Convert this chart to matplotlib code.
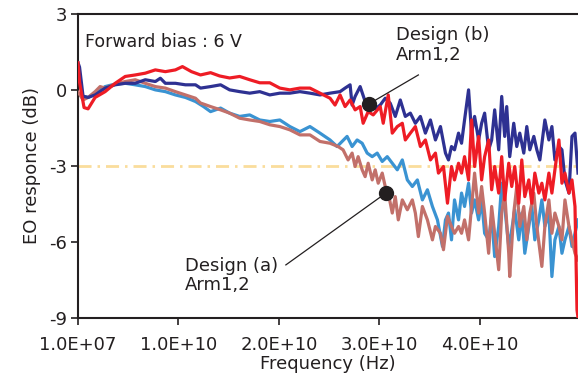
import matplotlib
matplotlib.use('Agg')
import matplotlib.pyplot as plt
import numpy as np

# ---- data (frequency in GHz, EO response in dB) ----
f_b2 = [0, 0.15, 0.5, 1.0, 1.7, 2.7, 3.7, 4.7, 5.7, 6.7, 7.7, 8.2, 8.7, 9.7, 10.7, 11.7,
        12.2, 13.2, 14.2, 15.1, 16.1, 17.1, 18.1, 19.1, 20.1, 21.1, 22.1, 23.1, 24.1, 25.1,
        26.1, 26.6, 27.1, 27.3, 27.6, 28.1, 28.6, 29.1, 29.6, 30.1, 30.6, 31.1, 31.6, 32.1,
        32.6, 33.1, 33.6, 34.1, 34.6, 35.1, 35.6, 36.1, 36.6, 36.9, 37.2, 37.5, 37.9, 38.2,
        38.5, 38.9, 39.2, 39.5, 39.9, 40.2, 40.5, 40.9, 41.2, 41.5, 41.9, 42.2, 42.5, 42.7,
        43.0, 43.4, 43.7, 44.0, 44.4, 44.7, 45.0, 45.4, 45.7, 46.0, 46.5, 46.9, 47.2, 47.5,
        47.9, 48.2, 48.5, 48.9, 49.2, 49.5, 49.8]
eo_b2 = [1.07, 0.9, -0.25, -0.3, -0.2, 0.07, 0.2, 0.26, 0.26, 0.4, 0.33, 0.46, 0.26, 0.26, 0.2, 0.2,
         0.07, 0.13, 0.2, 0.0, -0.07, -0.13, -0.07, -0.2, -0.13, -0.13, -0.07, -0.13, -0.2, -0.13,
         -0.07, 0.07, 0.2, -0.6, -0.26, 0.13, -0.46, -0.53, -0.75, -0.6, -0.33, -0.53, -1.05, -0.4,
         -1.05, -0.92, -1.32, -1.05, -1.71, -1.19, -1.98, -1.45, -2.5, -2.77, -2.24, -2.37, -1.71, -2.11,
         -1.19, 0.0, -1.71, -1.05, -1.98, -1.32, -0.92, -2.37, -1.98, -0.79, -2.37, -0.26, -1.84, -0.66,
         -2.64, -1.32, -2.24, -1.71, -2.5, -1.45, -2.37, -1.84, -2.37, -2.77, -1.19, -1.98, -1.45, -2.77,
         -2.24, -2.37, -3.56, -4.08, -1.84, -1.71, -3.29]

f_b1 = [0, 0.15, 0.6, 1.0, 1.7, 2.7, 3.7, 4.7, 5.7, 6.7, 7.7, 8.7, 9.7, 10.4, 11.3, 12.2,
        13.2, 14.1, 15.1, 16.1, 17.1, 18.1, 19.1, 20.1, 21.1, 22.1, 23.1, 24.1, 25.1, 25.6,
        26.1, 26.6, 27.1, 27.6, 28.1, 28.4, 28.9, 29.4, 30.1, 30.4, 30.9, 31.3, 31.8, 32.3,
        32.6, 33.1, 33.6, 34.1, 34.6, 35.1, 35.6, 35.9, 36.4, 36.8, 37.2, 37.5, 37.9, 38.2,
        38.5, 38.9, 39.2, 39.5, 39.9, 40.2, 40.5, 40.9, 41.2, 41.5, 41.9, 42.2, 42.5, 42.9,
        43.2, 43.5, 43.9, 44.2, 44.5, 44.9, 45.2, 45.5, 45.9, 46.2, 46.5, 46.9, 47.2, 47.5,
        47.9, 48.2, 48.5, 48.9, 49.2, 49.5, 49.7, 49.8]
eo_b1 = [1.07, 0.3, -0.7, -0.75, -0.3, -0.07, 0.26, 0.53, 0.59, 0.66, 0.79, 0.72, 0.79, 0.92, 0.72, 0.59,
         0.68, 0.55, 0.47, 0.53, 0.4, 0.28, 0.28, 0.07, 0.0, 0.07, 0.07, -0.13, -0.33, -0.6,
         -0.2, -0.66, -0.4, -0.79, -0.66, -1.32, -0.86, -0.99, -0.66, -1.32, -0.2, -1.71, -1.45, -1.32,
         -1.98, -1.71, -1.45, -2.24, -1.98, -2.77, -2.5, -3.29, -3.03, -4.48, -3.03, -3.56, -2.9, -3.29,
         -2.64, -3.56, -1.19, -3.03, -1.84, -3.56, -2.64, -1.98, -3.95, -3.03, -4.08, -2.64, -4.35, -2.9,
         -3.82, -3.03, -4.48, -2.77, -4.22, -3.56, -4.48, -3.29, -4.08, -3.69, -4.35, -3.29, -4.08, -3.16,
         -1.98, -3.69, -3.29, -4.08, -3.56, -4.61, -8.7, -9.0]

f_a1 = [0, 0.3, 1.0, 1.7, 2.7, 3.7, 4.7, 5.7, 6.7, 7.7, 8.7, 9.7, 10.7, 11.7, 12.5, 13.2,
        14.2, 15.1, 16.1, 17.1, 18.1, 19.1, 20.1, 21.1, 22.1, 23.1, 24.1, 25.1, 25.8, 26.3,
        26.8, 27.3, 27.8, 28.3, 28.8, 29.3, 29.8, 30.3, 30.8, 31.3, 31.8, 32.3, 32.8, 33.3,
        33.8, 34.3, 34.8, 35.3, 35.8, 36.3, 36.6, 36.9, 37.2, 37.5, 37.9, 38.2, 38.5, 38.9,
        39.2, 39.5, 39.9, 40.2, 40.5, 40.9, 41.2, 41.5, 41.9, 42.2, 42.5, 42.9, 43.2, 43.5,
        43.9, 44.2, 44.5, 44.9, 45.2, 45.5, 45.9, 46.2, 46.5, 46.9, 47.2, 47.5, 47.9, 48.2,
        48.5, 48.9, 49.2, 49.5, 49.8]
eo_a1 = [-0.15, -0.23, -0.3, -0.13, 0.13, 0.23, 0.26, 0.2, 0.13, 0.0, -0.07, -0.2, -0.3, -0.46, -0.66, -0.86,
         -0.72, -0.92, -1.05, -0.99, -1.19, -1.25, -1.19, -1.45, -1.65, -1.45, -1.71, -1.98, -2.24, -2.04,
         -1.84, -2.24, -1.98, -2.11, -2.5, -2.64, -2.5, -2.83, -2.64, -2.9, -3.16, -2.77, -3.56, -3.82,
         -3.56, -4.35, -3.95, -4.61, -5.14, -6.19, -5.14, -4.87, -5.93, -4.35, -5.14, -4.08, -4.61, -3.69,
         -4.87, -4.35, -5.14, -4.35, -5.67, -5.93, -5.0, -6.59, -5.4, -3.69, -4.61, -6.19, -5.53, -4.74,
         -5.93, -4.87, -6.46, -5.4, -4.61, -5.93, -5.14, -4.35, -5.4, -4.87, -7.38, -5.93, -5.4, -6.46,
         -5.93, -5.4, -6.19, -5.67, -5.14]

f_a2 = [0, 0.2, 0.5, 1.0, 1.7, 2.2, 2.7, 3.7, 4.7, 5.7, 6.7, 7.7, 8.7, 9.7, 10.7, 11.7,
        12.2, 13.2, 14.2, 15.1, 16.1, 17.1, 18.1, 19.1, 20.1, 21.1, 22.1, 23.1, 24.1, 25.1,
        25.9, 26.4, 26.9, 27.3, 27.6, 27.9, 28.3, 28.6, 28.9, 29.3, 29.6, 29.9, 30.3, 30.6,
        30.9, 31.3, 31.6, 31.9, 32.3, 32.8, 33.3, 33.6, 33.9, 34.3, 34.8, 35.3, 35.6, 36.1,
        36.4, 36.8, 37.2, 37.5, 37.9, 38.2, 38.5, 38.9, 39.2, 39.5, 39.9, 40.2, 40.5, 40.9,
        41.2, 41.5, 41.9, 42.2, 42.5, 42.9, 43.0, 43.4, 43.7, 44.0, 44.4, 44.7, 45.0, 45.4,
        45.7, 46.2, 46.5, 46.9, 47.2, 47.5, 47.9, 48.2, 48.5, 48.9, 49.2, 49.5, 49.8]
eo_a2 = [-0.1, -0.2, -0.4, -0.3, -0.07, 0.13, 0.07, 0.23, 0.33, 0.4, 0.26, 0.13, 0.07, -0.07, -0.2, -0.33,
         -0.52, -0.66, -0.79, -0.92, -1.12, -1.19, -1.25, -1.38, -1.45, -1.58, -1.78, -1.78, -2.04, -2.11,
         -2.24, -2.37, -2.77, -2.5, -3.03, -2.64, -3.16, -3.43, -2.9, -3.56, -3.16, -3.69, -3.29, -3.82,
         -4.08, -4.87, -4.22, -5.14, -4.35, -4.74, -4.35, -4.87, -5.8, -4.61, -5.14, -5.93, -5.4, -5.67,
         -6.32, -5.0, -5.4, -5.67, -5.4, -5.67, -5.14, -5.93, -4.61, -3.29, -4.87, -3.82, -4.87, -6.46,
         -4.61, -5.67, -7.11, -4.87, -4.08, -6.46, -7.38, -4.87, -3.82, -5.4, -4.61, -5.93, -4.87, -4.08,
         -5.4, -6.98, -5.4, -4.35, -5.67, -4.87, -5.4, -5.93, -4.35, -5.4, -5.93, -6.46, -6.72]

xtick_vals = [1.0e7, 1.0e10, 2.0e10, 3.0e10, 4.0e10]
xtick_labels = ['1.0E+07', '1.0E+10', '2.0E+10', '3.0E+10', '4.0E+10']
ytick_vals = [3, 0, -3, -6, -9]
ref_level = -3                                   # 3 dB line

dot_b = (2.9e10, -0.55)                          # annotation marker positions
dot_a = (3.07e10, -4.07)

GHz = 1e9

fig = plt.figure(figsize=(5.78, 3.78), dpi=100)
ax = fig.add_axes([0.135, 0.16, 0.865, 0.803])

ax.axhline(ref_level, color='#FADD9C', lw=2, ls=(0, (4.7, 2.15, 0.9, 2.15)), zorder=1)

# draw order : light blue, rose, navy, red
ax.plot(np.array(f_a1)*GHz, eo_a1, color='#3A93D2', lw=2.3, zorder=2)
ax.plot(np.array(f_a2)*GHz, eo_a2, color='#C2706A', lw=2.3, zorder=3)
ax.plot(np.array(f_b2)*GHz, eo_b2, color='#2E3192', lw=2.3, zorder=4)
ax.plot(np.array(f_b1)*GHz, eo_b1, color='#EE1C25', lw=2.3, zorder=5)

# annotations
ax.plot([dot_b[0], 3.39e10], [dot_b[1], 0.59], color='#231F20', lw=0.9, zorder=6)
ax.plot([dot_a[0], 2.07e10], [dot_a[1], -6.92], color='#231F20', lw=0.9, zorder=6)
ax.plot([dot_b[0], dot_a[0]], [dot_b[1], dot_a[1]], 'o', color='#231F20', ms=10, ls='none', zorder=7)
ax.text(3.17e10, 1.78, 'Design (b)\nArm1,2', fontsize=13, color='#231F20', va='center', ha='left', linespacing=1.1)
ax.text(1.065e10, -7.35, 'Design (a)\nArm1,2', fontsize=13, color='#231F20', va='center', ha='left', linespacing=1.1)
ax.text(0.07e10, 1.9, 'Forward bias : 6 V', fontsize=12.5, color='#231F20', va='center', ha='left')

ax.set_xlim([0, 4.98e10])
ax.set_ylim([-9, 3])
ax.set_xticks(xtick_vals)
ax.set_xticklabels(xtick_labels, fontsize=13, color='#231F20')
ax.set_yticks(ytick_vals)
ax.set_yticklabels(ytick_vals, fontsize=13, color='#231F20')
ax.tick_params(axis='both', direction='out', length=5, width=1.2, color='#231F20')
ax.tick_params(axis='x', pad=8)
ax.tick_params(axis='y', pad=3)
for side in ['left', 'bottom', 'top']:
    ax.spines[side].set_linewidth(1.5)
    ax.spines[side].set_color('#231F20')
ax.spines['right'].set_visible(False)
ax.set_xlabel('Frequency (Hz)', fontsize=13, color='#231F20', labelpad=1)
ax.set_ylabel('EO responce (dB)', fontsize=13, color='#231F20', labelpad=6)

fig.savefig('out.png', dpi=100)
plt.close()
